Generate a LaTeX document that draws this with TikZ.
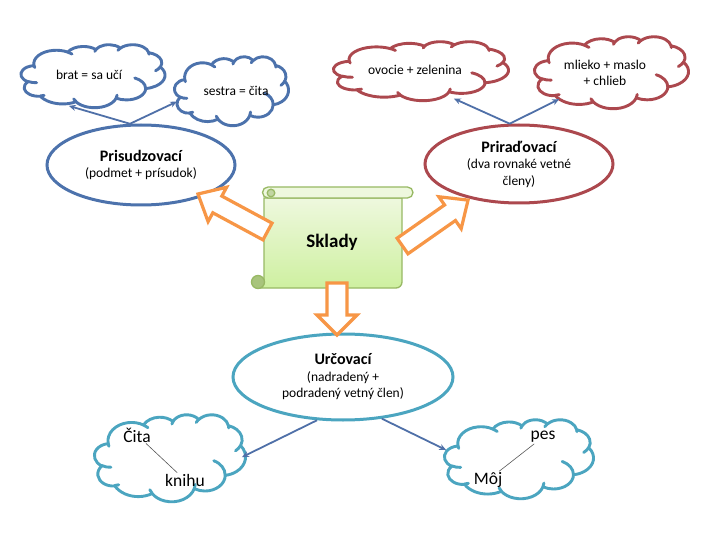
\documentclass[tikz,border=0pt]{standalone}
\usepackage{fontspec}
\setmainfont{Carlito}
\usetikzlibrary{shapes.geometric,arrows.meta}
\definecolor{cblue}{RGB}{76,114,172}
\definecolor{cred}{RGB}{172,72,78}
\definecolor{cteal}{RGB}{75,165,192}
\definecolor{cconn}{RGB}{79,112,168}
\definecolor{corange}{RGB}{247,150,70}
\definecolor{sborder}{RGB}{152,185,100}
\definecolor{stopc}{RGB}{238,248,222}
\definecolor{sbotc}{RGB}{206,240,160}
\definecolor{scurl}{RGB}{168,196,124}
\tikzset{
  cloudline/.style={line width=2.9pt, line join=round, line cap=round},
  canchor/.style={ellipse, inner sep=0pt},
  bigell/.style={ellipse, draw, line width=3pt, fill=white, inner sep=0pt, align=center, font=\fontsize{13.5}{16.5}\selectfont},
  conn/.style={draw=cconn, line width=1.8pt, -{Stealth[length=7pt,width=6pt]}},
  blockarr/.style={draw=corange, line width=3.2pt, fill=white, line join=miter},
  ctext/.style={font=\fontsize{13.5}{16}\selectfont, align=center, inner sep=1pt},
  btext/.style={font=\fontsize{17.5}{20}\selectfont, inner sep=1pt},
  hairline/.style={draw=black!65, line width=0.6pt},
  scrollline/.style={draw=sborder, line width=1.3pt},
}
% #1 name, #2 x, #3 y, #4 w, #5 h, #6 colour
\newcommand{\pptcloud}[6]{%
  \pgfmathsetmacro{\cwu}{#4/432}%
  \pgfmathsetmacro{\chu}{#5/432}%
  \node[canchor, minimum width=#4pt, minimum height=#5pt] (#1) at (#2,#3) {};
  \begin{scope}[shift={({#2-#4/2},{#3-#5/2})}, x=\cwu pt, y=-\chu pt]
    \draw[cloudline, draw=#6, fill=white] (39,143.7)
      \foreach \wr/\hr/\sa/\sw in {67.53/91.90/-190.4875/123.7805, 53.33/72.67/-144.1024/89.9452,
        43.65/59.45/-145.8079/99.7230, 48.57/65.95/-130.9861/117.2417, 53.33/72.73/-78.7089/109.0269,
        67.75/92.20/-46.2673/130.2690, 57.85/78.67/0.6250/114.0333, 67.52/92.15/22.4516/115.1726,
        77.20/105.43/66.2426/75.7110, 43.60/59.18/-274.9421/146.7356, 43.45/59.45/-246.8285/152.5189}{
        arc[x radius=\wr, y radius=\hr, start angle={atan2(\wr*sin(\sa),\hr*cos(\sa))},
            delta angle={mod(atan2(\wr*sin(\sa+\sw),\hr*cos(\sa+\sw))-atan2(\wr*sin(\sa),\hr*cos(\sa))+720,360)}]
      } -- cycle;
    \foreach \px/\py/\wr/\hr/\sa/\sw in {46.93/261.77/43.45/59.45/86.742/26.430,
        69.28/348.99/43.60/59.18/73.610/11.447, 164.78/390.90/67.52/92.15/137.624/14.081,
        288.27/347.51/67.52/92.15/6.453/15.998, 341.29/229.54/57.85/78.67/-70.292/70.917,
        417.98/153.54/53.33/72.73/30.318/27.752, 383.24/54.26/48.57/65.95/-13.744/14.859,
        290.78/39.52/48.57/65.95/-149.181/18.195, 221.41/47.20/43.65/59.45/-163.494/17.686,
        140.00/51.92/67.53/91.90/-66.707/12.319, 41.27/157.89/67.53/91.90/157.654/11.858}{
      \draw[cloudline, draw=#6] (\px,\py)
        arc[x radius=\wr, y radius=\hr, start angle={atan2(\wr*sin(\sa),\hr*cos(\sa))},
            delta angle={mod(atan2(\wr*sin(\sa+\sw),\hr*cos(\sa+\sw))-atan2(\wr*sin(\sa),\hr*cos(\sa))+720,360)}];
    }
  \end{scope}}
% tail x, tail y, angle, length, shaft half, head half, head length
\newcommand{\blockarrow}[7]{%
  \begin{scope}[shift={(#1,#2)}, rotate=#3]
    \draw[blockarr] (0,-#5) -- ({#4-#7},-#5) -- ({#4-#7},-#6) -- (#4,0) -- ({#4-#7},#6) -- ({#4-#7},#5) -- (0,#5) -- cycle;
  \end{scope}}
\begin{document}
\begin{tikzpicture}[x=1pt,y=-1pt]
\fill[white] (0,0) rectangle (720,540);
\useasboundingbox (0,0) rectangle (720,540);

% clouds
\pptcloud{c1}{93}{76}{144}{63}{cblue}
\pptcloud{c2}{231.5}{91}{114}{69}{cblue}
\pptcloud{c3}{421}{71}{175}{59}{cred}
\pptcloud{c4}{611.5}{72.5}{154}{72}{cred}
\pptcloud{c5}{170}{458}{151}{87}{cteal}
\pptcloud{c6}{519}{459}{149}{79}{cteal}

% cloud texts
\node[ctext] (t1) at (89,75) {brat = sa učí};
\node[ctext] (t2) at (236,91) {sestra = čita};
\node[ctext] (t3) at (415,70) {ovocie + zelenina};
\node[ctext] (t4) at (605,73) {mlieko + maslo\\+ chlieb};
\node[btext] (cita) at (137,435) {Čita};
\node[btext] (knihu) at (185,480) {knihu};
\node[btext] (pes) at (543,437) {pes};
\node[btext] (moj) at (488,480) {Môj};
\draw[hairline] (cita) -- (knihu);
\draw[hairline] (pes) -- (moj);

% ellipses
\node[bigell, draw=cblue, minimum width=188pt, minimum height=80pt] (prisud) at (141,165)
  {{\fontsize{16}{17}\selectfont\bfseries Prisudzovací}\\(podmet + prísudok)};
\node[bigell, draw=cred, minimum width=188pt, minimum height=78pt] (prirad) at (519,164)
  {{\fontsize{16}{17}\selectfont\bfseries Priraďovací}\\(dva rovnaké vetné\\členy)};
\node[bigell, draw=cteal, minimum width=220pt, minimum height=86pt] (urc) at (343,377)
  {{\fontsize{16}{17}\selectfont\bfseries Určovací}\\(nadradený +\\podradený vetný člen)};

% connectors
\draw[conn] (prisud.105) -- (c1.231);
\draw[conn] (prisud.105) -- (c2.191);
\draw[conn] (prirad.103) -- (c3.320);
\draw[conn] (prirad.103) -- (c4.207);
\draw[conn, shorten >=-4pt] (urc.239) -- (c5.2);
\draw[conn] (urc.313) -- (c6.173);

% scroll
\draw[scrollline, top color=stopc, bottom color=sbotc]
  (264,198) -- (264,282) arc[start angle=0, delta angle=90, radius=6]
  -- (396,288) arc[start angle=90, delta angle=-90, radius=6] -- (402,198) -- cycle;
\draw[scrollline, fill=scurl] (258,282) circle[radius=6.5];
\draw[scrollline, fill=stopc]
  (268,187) -- (407.5,187) arc[start angle=-90, delta angle=180, radius=5.5]
  -- (268,198) arc[start angle=90, delta angle=180, radius=5.5] -- cycle;
\draw[scrollline, fill=scurl!70] (271,193) circle[radius=3.8];
\node[font=\fontsize{19}{21}\selectfont\bfseries] (sklady) at (332,242) {Sklady};

% block arrows
\blockarrow{267.5}{231.5}{151.65}{79}{9.5}{19.5}{22}
\blockarrow{402.5}{246}{35}{80}{9.5}{19.5}{22}
\blockarrow{337}{283}{-90}{52}{10}{20}{20}
\end{tikzpicture}
\end{document}
